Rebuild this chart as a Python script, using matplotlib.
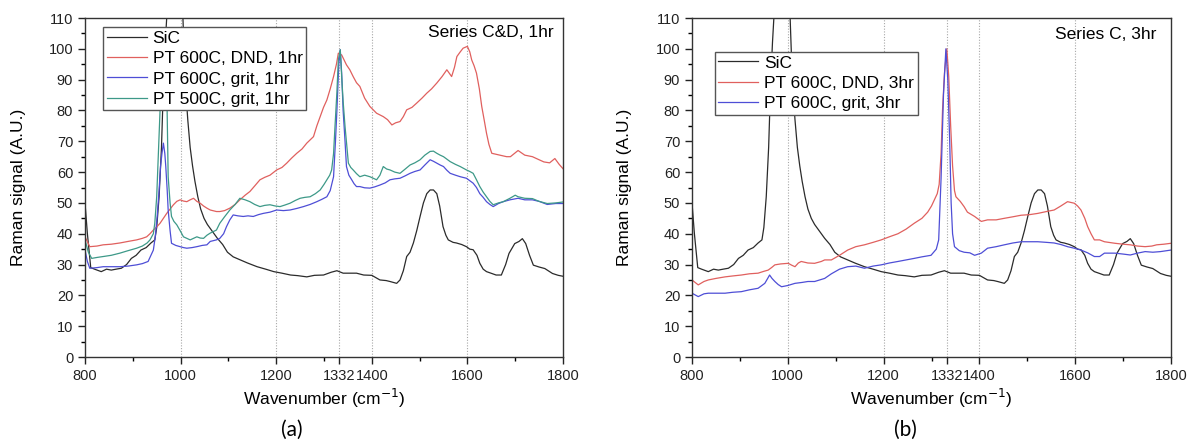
import matplotlib
matplotlib.use("Agg")
import matplotlib.pyplot as plt

plt.rcParams['font.family'] = ['Liberation Sans', 'DejaVu Sans']

# ---- reference spectrum (same in both panels) ----
wn_sic = [800, 805, 812, 820, 834, 845, 855, 865, 876, 887, 897, 907, 917, 928, 938, 946,
          950, 955, 960, 964, 968, 972, 978, 988, 998, 1004, 1008, 1011, 1015, 1020, 1025,
          1030, 1036, 1042, 1049, 1056, 1063, 1070, 1077, 1088, 1098, 1110, 1125, 1140, 1160,
          1178, 1195, 1212, 1230, 1245, 1264, 1280, 1299, 1315, 1327, 1340, 1355, 1368, 1383,
          1400, 1417, 1430, 1438, 1452, 1459, 1466, 1473, 1480, 1487, 1494, 1501, 1508, 1515,
          1522, 1529, 1536, 1542, 1549, 1555, 1560, 1570, 1577, 1588, 1598, 1605, 1612, 1620,
          1626, 1633, 1640, 1651, 1660, 1671, 1680, 1687, 1699, 1708, 1715, 1722, 1730, 1738,
          1750, 1762, 1778, 1790, 1800]
sic = [50, 40, 29, 28.5, 27.7, 28.5, 28.2, 28.5, 28.8, 30, 32, 33, 34.7, 35.5, 37, 38,
       42, 52, 68, 88, 102, 113, 135, 150, 140, 114, 96, 86, 77, 68, 62,
       57, 52, 48, 45, 43, 41.5, 40, 38.5, 36.5, 34, 32.5, 31.5, 30.5, 29.3,
       28.5, 27.7, 27.2, 26.6, 26.4, 26, 26.5, 26.6, 27.5, 28, 27.2, 27.2, 27.2, 26.6,
       26.5, 25, 24.8, 24.5, 23.9, 25, 28, 32.6, 34, 37, 41, 45.6, 50, 53,
       54.2, 54.2, 53, 49, 42.3, 39.5, 38, 37.2, 37, 36.5, 35.8, 35, 34.8, 33,
       30.4, 28.5, 27.7, 27.1, 26.6, 26.6, 30, 33.6, 36.8, 37.5, 38.4, 36.8, 33, 29.8,
       29.2, 28.7, 27.1, 26.5, 26.2]

# ---- panel (a): series C&D, 1hr ----
wn_dnd_1hr = [800, 810, 825, 838, 855, 873, 890, 908, 920, 929, 936, 943, 950, 957, 964, 971,
              978, 985, 992, 999, 1006, 1013, 1020, 1027, 1034, 1041, 1048, 1055, 1062, 1075,
              1082, 1092, 1103, 1114, 1124, 1135, 1145, 1155, 1166, 1176, 1187, 1201, 1212,
              1222, 1232, 1243, 1254, 1264, 1278, 1285, 1292, 1299, 1306, 1313, 1320, 1326,
              1330, 1337, 1347, 1354, 1361, 1368, 1375, 1385, 1396, 1410, 1424, 1433, 1442,
              1450, 1459, 1466, 1473, 1484, 1494, 1505, 1515, 1525, 1536, 1547, 1557, 1567,
              1573, 1578, 1585, 1591, 1600, 1605, 1609, 1614, 1619, 1625, 1630, 1635, 1640,
              1645, 1651, 1665, 1682, 1690, 1706, 1720, 1736, 1750, 1760, 1772, 1783, 1792, 1800]
dnd_1hr = [39, 35.8, 36, 36.4, 36.6, 37, 37.5, 38, 38.5, 39, 40, 41.2, 42.2, 43.4, 45, 46.6,
           48, 49.4, 50.5, 51, 50.6, 50.4, 51, 51.5, 50.5, 49.9, 49, 48.3, 47.7, 47.2,
           47.2, 47.5, 48.3, 49.5, 51, 52.5, 53.7, 55.5, 57.5, 58.3, 59, 60.7, 61.5,
           62.9, 64.5, 66.1, 67.5, 69.4, 71.5, 75, 78, 81, 83.4, 87, 91, 95,
           98.6, 98, 94.8, 93.2, 91, 89, 87.8, 84, 81.3, 79.1, 78, 77, 75.3,
           76, 76.4, 78, 80.2, 81, 82.4, 84, 85.6, 87, 88.9, 91, 93.2, 91,
           94, 97.5, 99, 100.2, 100.8, 99, 96.4, 94.5, 92.1, 87, 81.3, 77, 72.6,
           69, 66.1, 65.6, 65, 65, 67, 65.5, 65, 64, 63.3, 63, 64.4, 62.5, 61.1]

wn_grit_1hr = [800, 805, 810, 825, 838, 855, 873, 890, 908, 920, 932, 943, 947, 951, 955, 958,
               961, 964, 967, 969, 972, 974, 978, 981, 990, 999, 1006, 1013, 1024, 1034, 1045,
               1055, 1062, 1075, 1082, 1090, 1096, 1103, 1110, 1120, 1131, 1141, 1152, 1163,
               1173, 1187, 1201, 1215, 1229, 1243, 1257, 1271, 1285, 1296, 1306, 1313, 1320,
               1324, 1327, 1331, 1334, 1337, 1340, 1344, 1347, 1352, 1358, 1363, 1368, 1375,
               1385, 1396, 1406, 1417, 1428, 1438, 1448, 1459, 1470, 1480, 1490, 1501, 1511,
               1522, 1529, 1536, 1543, 1550, 1557, 1564, 1575, 1585, 1598, 1605, 1612, 1619,
               1626, 1633, 1640, 1647, 1654, 1665, 1675, 1689, 1706, 1720, 1736, 1750, 1767,
               1785, 1800]
grit_1hr = [34.7, 31, 28.8, 29, 29.3, 29.3, 29.3, 29.5, 29.9, 30.3, 31, 34.7, 39, 45.6, 54, 61.8,
            66, 69.4, 66, 61.8, 54, 47.7, 41, 36.9, 36.2, 35.8, 35.5, 35.3, 35.5, 35.8, 36.2,
            36.4, 37.5, 38, 38.5, 40, 42.3, 44.5, 46.1, 45.8, 45.6, 45.8, 45.6, 46.2,
            46.6, 47, 47.7, 47.5, 47.7, 48.2, 48.8, 49.5, 50.4, 51.2, 52, 54, 58.5,
            70, 80, 95, 99.7, 92, 80, 70, 61.8, 59, 57.5, 56.2, 55.3, 55.3,
            54.9, 54.8, 55.2, 55.8, 56.5, 57.5, 57.8, 58, 58.8, 59.6, 60.2, 60.7, 62.3,
            64, 63.5, 62.9, 62.3, 61.8, 60.6, 59.6, 59, 58.5, 58, 57.2, 56.4, 55,
            53, 51.8, 50.4, 49.5, 48.8, 49.8, 50.4, 51, 51.5, 51, 51, 50.5, 49.5,
            49.8, 49.8]

wn_500_1hr = [800, 807, 814, 825, 838, 855, 873, 890, 908, 920, 930, 936, 943, 946, 950, 953,
              957, 960, 963, 966, 969, 971, 974, 978, 981, 986, 992, 999, 1006, 1013, 1020,
              1027, 1034, 1041, 1048, 1055, 1062, 1075, 1082, 1092, 1103, 1114, 1124, 1135,
              1145, 1155, 1166, 1176, 1187, 1198, 1208, 1218, 1229, 1240, 1250, 1260, 1271,
              1282, 1292, 1300, 1306, 1312, 1316, 1320, 1323, 1327, 1330, 1334, 1337, 1340,
              1344, 1348, 1351, 1356, 1361, 1368, 1375, 1385, 1396, 1410, 1417, 1424, 1431,
              1438, 1448, 1459, 1470, 1480, 1490, 1501, 1511, 1522, 1529, 1536, 1543, 1550,
              1557, 1564, 1575, 1585, 1598, 1605, 1612, 1619, 1626, 1633, 1640, 1647, 1654,
              1665, 1675, 1689, 1700, 1706, 1720, 1736, 1750, 1767, 1785, 1800]
grit_500_1hr = [38, 34, 32, 32.3, 32.6, 33, 33.7, 34.5, 35.3, 36, 37, 38, 40, 43.4, 52, 64,
                80, 91, 97, 100, 97, 88, 58.5, 50, 45.6, 44, 42.9, 41, 39, 38.5, 38,
                38.5, 39, 38.6, 38.5, 39.5, 40.2, 41.2, 43.4, 45.5, 47.7, 49.5, 51.5, 51,
                50.4, 49.5, 48.8, 49.2, 49.4, 49, 48.8, 49.3, 49.9, 50.8, 51.5, 51.8, 52,
                53, 54.2, 56, 57.5, 59, 60.7, 66, 74.8, 86, 96.4, 99.7, 91, 83,
                74.8, 68, 62.9, 61.5, 60.7, 59.5, 58.5, 59, 58.5, 57.5, 59, 61.8, 61,
                60.7, 60, 59.6, 61, 62.3, 63, 64, 65.5, 66.7, 66.8, 66.1, 65.5, 65,
                64.2, 63.4, 62.5, 61.8, 60.7, 60.2, 59.6, 57.5, 55.3, 53.5, 52, 50.5, 49.4,
                50, 50.4, 51.5, 52.5, 52, 51.5, 51.4, 50.5, 49.8, 50, 50.3]

# ---- panel (b): series C, 3hr ----
wn_dnd_3hr = [800, 813, 825, 834, 850, 869, 885, 903, 920, 938, 950, 959, 966, 973, 985, 1001,
              1008, 1015, 1022, 1028, 1042, 1056, 1070, 1077, 1091, 1108, 1125, 1142, 1160,
              1178, 1195, 1212, 1230, 1247, 1264, 1280, 1292, 1300, 1306, 1312, 1316, 1320,
              1323, 1327, 1332, 1336, 1340, 1344, 1348, 1351, 1360, 1368, 1375, 1390, 1404,
              1417, 1435, 1452, 1470, 1487, 1505, 1522, 1540, 1556, 1570, 1584, 1598, 1605,
              1612, 1620, 1626, 1633, 1640, 1651, 1661, 1683, 1700, 1715, 1730, 1746, 1760,
              1770, 1785, 1800]
dnd_3hr = [25, 23.4, 24.5, 25, 25.5, 26, 26.3, 26.6, 27, 27.2, 27.8, 28.2, 29, 29.9, 30.2, 30.4,
           29.8, 29.3, 30.5, 31, 30.5, 30.4, 31, 31.5, 31.5, 33, 34.7, 35.8, 36.4,
           37.2, 38, 39, 40, 41.5, 43.4, 45, 47, 49, 51, 53, 56, 66,
           80, 92, 100, 91, 75, 62, 54, 52, 50.5, 48.8, 47, 45.6, 44,
           44.5, 44.5, 45, 45.5, 46, 46.2, 46.6, 47.2, 47.7, 49, 50.4, 49.9, 49,
           47.7, 45, 42.3, 40, 38, 38, 37.4, 36.9, 36.6, 36.4, 36, 35.8, 36,
           36.4, 36.6, 36.9]

wn_grit_3hr = [800, 813, 825, 834, 850, 869, 885, 903, 920, 938, 952, 958, 962, 967, 973, 980,
               987, 1000, 1015, 1030, 1042, 1056, 1077, 1091, 1108, 1125, 1142, 1160, 1178,
               1195, 1212, 1230, 1247, 1264, 1280, 1299, 1310, 1315, 1320, 1325, 1330, 1334,
               1338, 1341, 1344, 1348, 1358, 1368, 1380, 1390, 1404, 1417, 1435, 1452, 1470,
               1487, 1505, 1522, 1540, 1556, 1570, 1584, 1598, 1612, 1626, 1640, 1651, 1661,
               1683, 1700, 1715, 1730, 1746, 1762, 1778, 1800]
grit_3hr = [20.7, 19.6, 20.5, 20.7, 20.7, 20.7, 21, 21.2, 21.8, 22.3, 23.9, 25.5, 26.6, 25.5, 24.5, 23.5,
            22.8, 23.2, 23.9, 24.2, 24.5, 24.5, 25.5, 27, 28.5, 29.3, 29.5, 28.8, 29.5,
            29.9, 30.5, 31, 31.5, 32, 32.5, 33, 35, 38, 58, 85, 100, 90,
            70, 50, 40, 35.8, 34.5, 34, 33.8, 33, 33.7, 35.3, 35.8, 36.4, 37,
            37.4, 37.4, 37.4, 37.2, 37, 36.5, 35.8, 35.3, 34.7, 33.8, 32.6, 32.6, 33.7,
            33.7, 33.4, 33.1, 33.7, 34.2, 34, 34.2, 34.7]

major_x = [800, 1000, 1200, 1332, 1400, 1600, 1800]
guide_x = [1000, 1200, 1332, 1400, 1600]

C_SIC = '#2b2b2b'
C_DND = '#e0605e'
C_GRIT = '#4e4ed6'
C_500 = '#3d9988'

W, H = 1191, 448
fig = plt.figure(figsize=(W / 100, H / 100), dpi=100)
ax_a = fig.add_axes([85 / W, 91 / H, 478 / W, 339 / H])
ax_b = fig.add_axes([692 / W, 91 / H, 479 / W, 339 / H])


def setup(ax):
    ax.set_xlim(800, 1800)
    ax.set_ylim(0, 110)
    ax.set_xticks(major_x)
    ax.set_xticks([900, 1100, 1300, 1500, 1700], minor=True)
    ax.set_yticks(range(0, 111, 10))
    ax.set_yticks(range(5, 110, 10), minor=True)
    ax.tick_params(which='major', direction='out', length=5, width=1, labelsize=10.5,
                   colors='#222222')
    ax.tick_params(which='minor', direction='out', length=3, width=1)
    for s in ax.spines.values():
        s.set_linewidth(1.0)
        s.set_color('#333333')
    for x in guide_x:
        ax.axvline(x, color='#a8a8a8', lw=0.8, ls=(0, (1, 1.5)), zorder=0)
    ax.set_xlabel('Wavenumber (cm$^{-1}$)', fontsize=12.5, va='center')
    ax.set_ylabel('Raman signal (A.U.)', fontsize=12.5, va='center')
    ax.xaxis.set_label_coords(0.5, -0.121)
    ax.yaxis.set_label_coords(-0.14, 0.5)


def legend(ax, anchor):
    leg = ax.legend(loc='upper left', bbox_to_anchor=anchor, fontsize=12.5, fancybox=False,
                    framealpha=1, edgecolor='#555555', borderpad=0.2, labelspacing=0.3,
                    handlelength=2.3, handletextpad=0.35, borderaxespad=0)
    leg.get_frame().set_linewidth(1.0)


# panel (a)
setup(ax_a)
ax_a.plot(wn_sic, sic, color=C_SIC, lw=0.9, label='SiC')
ax_a.plot(wn_dnd_1hr, dnd_1hr, color=C_DND, lw=0.9, label='PT 600C, DND, 1hr')
ax_a.plot(wn_grit_1hr, grit_1hr, color=C_GRIT, lw=0.9, label='PT 600C, grit, 1hr')
ax_a.plot(wn_500_1hr, grit_500_1hr, color=C_500, lw=0.9, label='PT 500C, grit, 1hr')
legend(ax_a, (0.038, 0.973))
ax_a.text(0.981, 0.956, 'Series C&D, 1hr', transform=ax_a.transAxes, ha='right', va='center',
          fontsize=12.5)

# panel (b)
setup(ax_b)
ax_b.plot(wn_sic, sic, color=C_SIC, lw=0.9, label='SiC')
ax_b.plot(wn_dnd_3hr, dnd_3hr, color=C_DND, lw=0.9, label='PT 600C, DND, 3hr')
ax_b.plot(wn_grit_3hr, grit_3hr, color=C_GRIT, lw=0.9, label='PT 600C, grit, 3hr')
legend(ax_b, (0.048, 0.90))
ax_b.text(0.969, 0.95, 'Series C, 3hr', transform=ax_b.transAxes, ha='right', va='center',
          fontsize=12.5)

fig.text(292 / W, 1 - 430 / H, '(a)', ha='center', va='center', fontsize=15, family='Lato')
fig.text(905 / W, 1 - 430 / H, '(b)', ha='center', va='center', fontsize=15, family='Lato')

fig.savefig('out.png', dpi=100)
